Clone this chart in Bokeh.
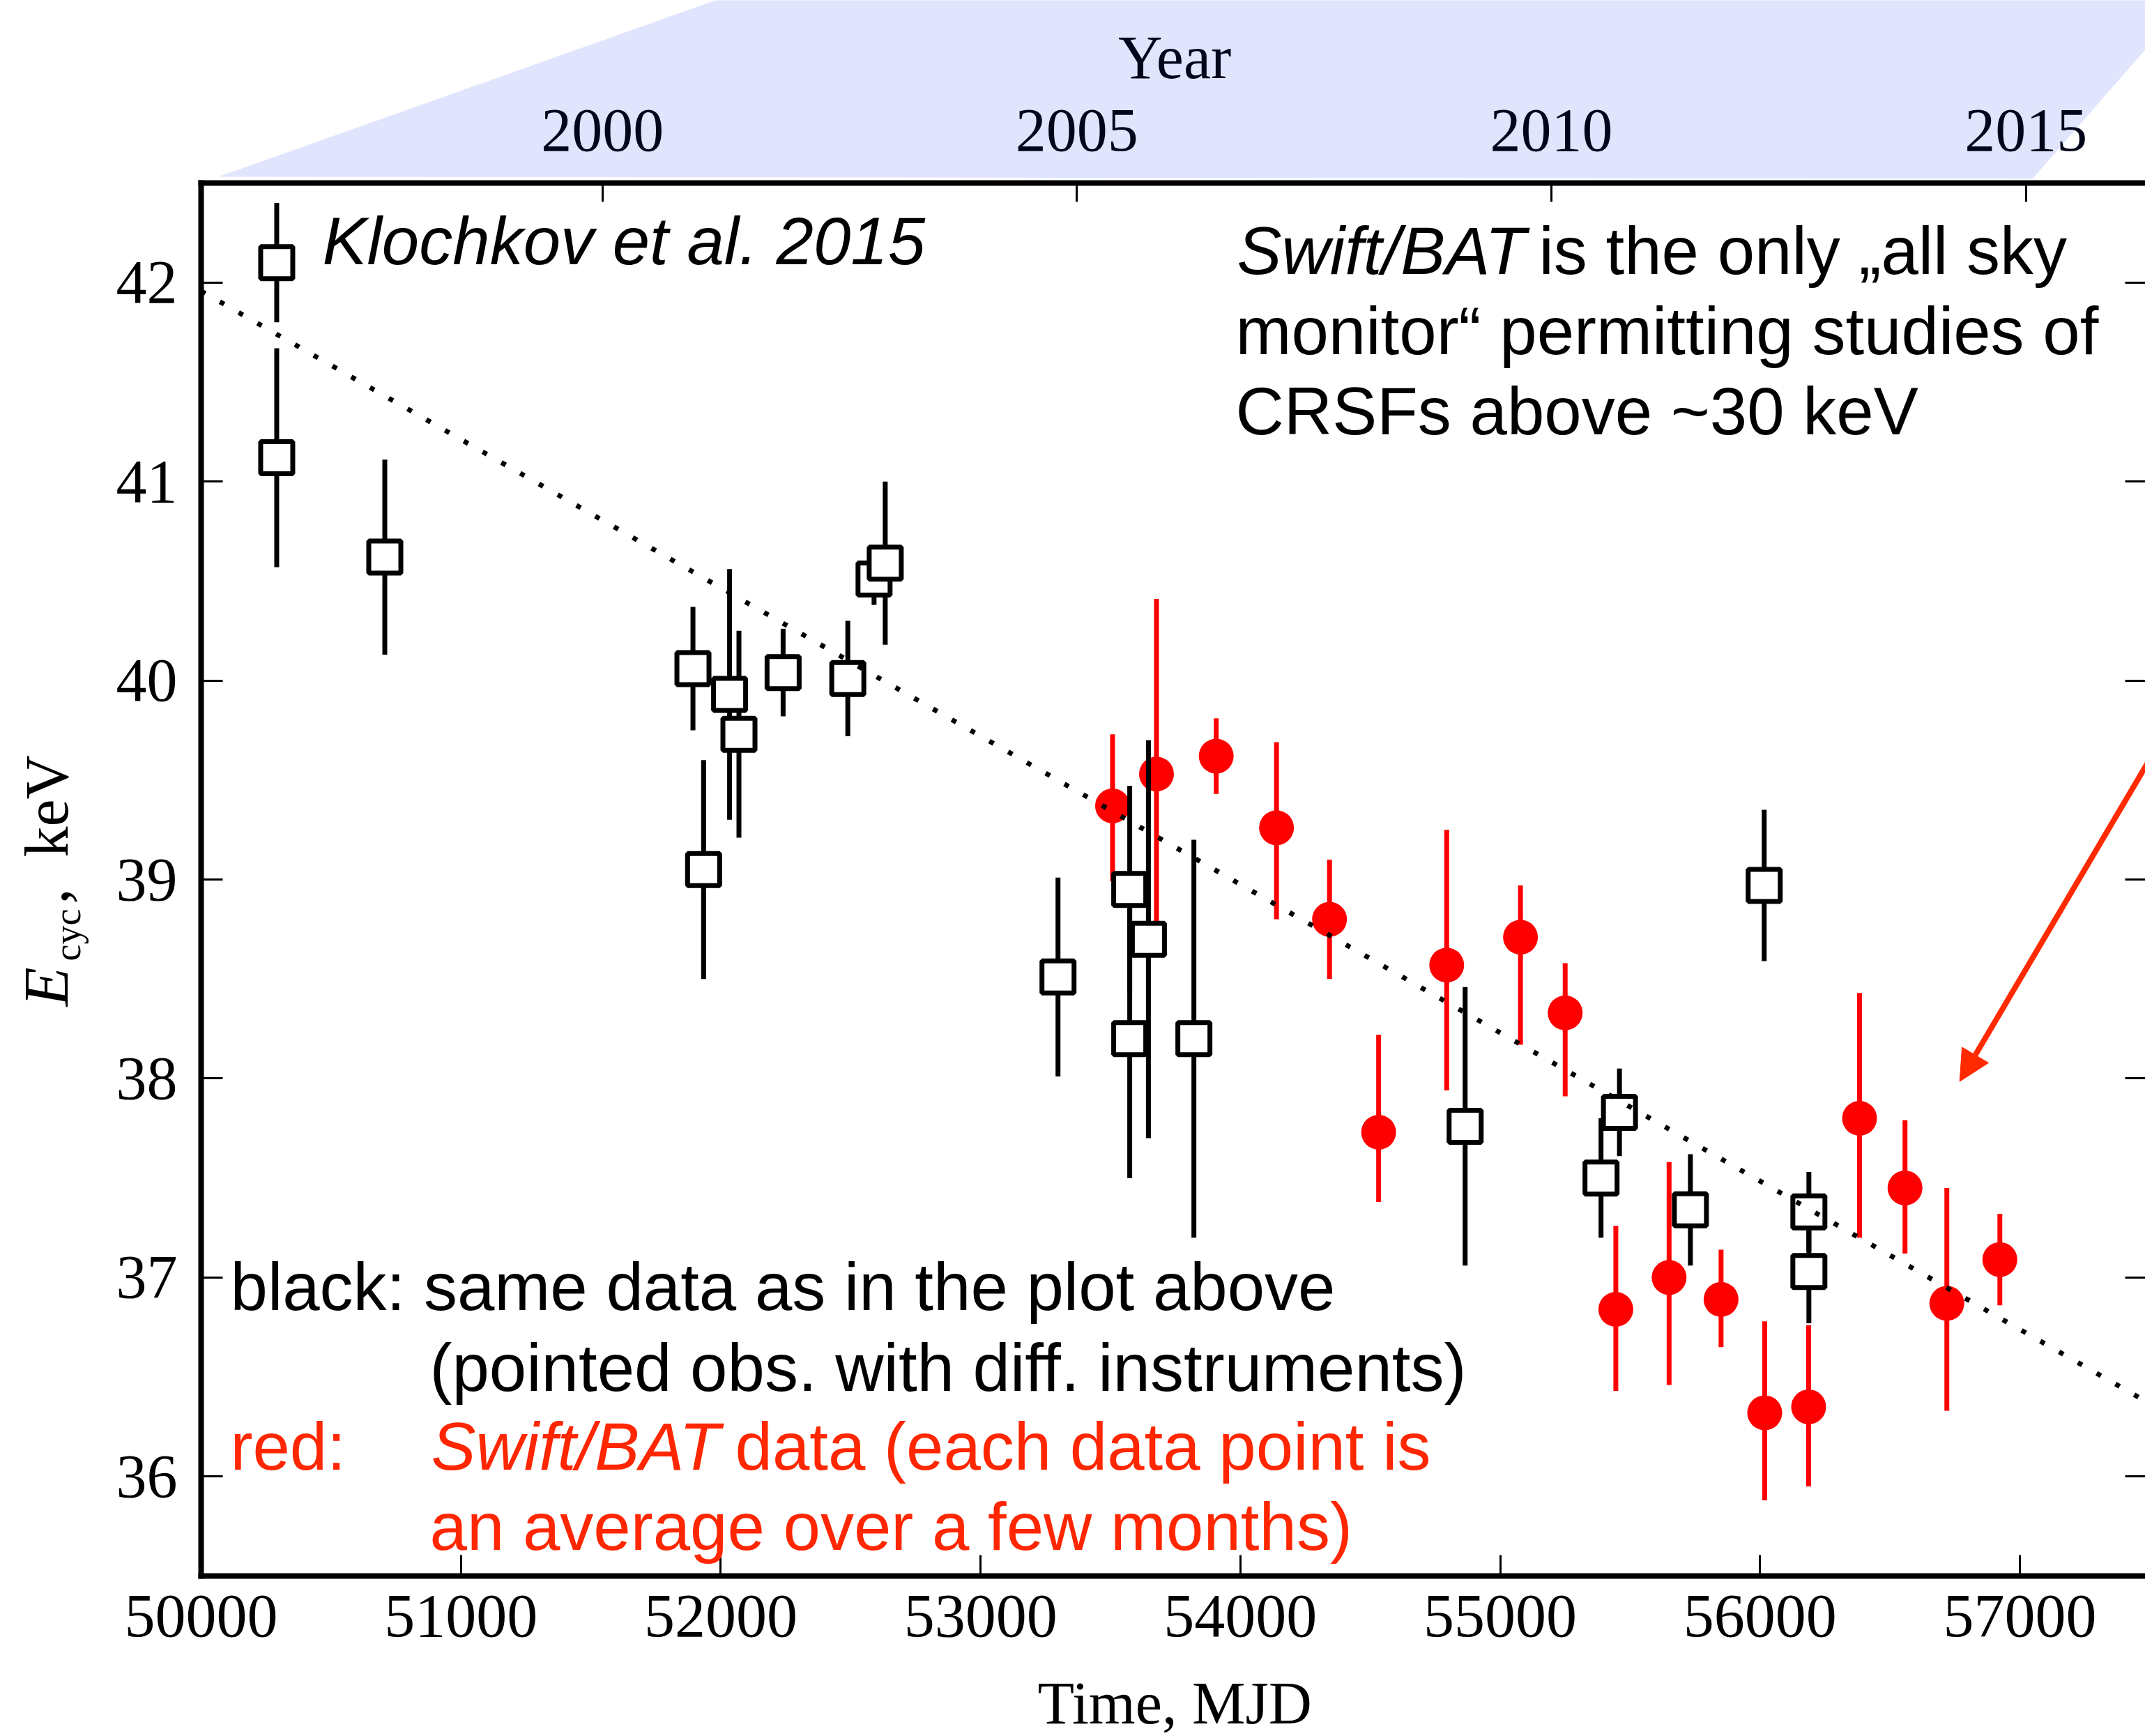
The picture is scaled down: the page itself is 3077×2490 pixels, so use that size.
import math
from bokeh.plotting import figure
from bokeh.layouts import column, row
from bokeh.models import (Range1d, LinearAxis, FixedTicker, Label, Arrow, NormalHead,
                          ColumnDataSource)
from bokeh.embed import file_html
from bokeh.resources import INLINE

# ---------------- data ----------------
# black: pointed observations (Klochkov et al. 2015)
black_mjd = [50291, 50291, 50707, 51893, 51934, 52034, 52070, 52240, 52489, 52590, 52633,
             53298, 53574, 53574, 53646, 53821, 54865, 55388, 55459, 55732, 56016, 56188, 56188]
black_e = [42.10, 41.12, 40.62, 40.06, 39.05, 39.93, 39.73, 40.04, 40.01, 40.51, 40.59,
           38.51, 38.95, 38.20, 38.70, 38.20, 37.76, 37.50, 37.83, 37.34, 38.97, 37.33, 37.03]
black_err = [0.30, 0.55, 0.49, 0.31, 0.55, 0.63, 0.52, 0.22, 0.29, 0.13, 0.41,
             0.50, 0.52, 0.70, 1.00, 1.00, 0.70, 0.30, 0.22, 0.28, 0.38, 0.20, 0.26]

# red: Swift/BAT averages
red_mjd = [53508, 53677, 53907, 54139, 54343, 54532, 54794, 55078, 55250, 55445,
           55650, 55850, 56018, 56187, 56383, 56558, 56719, 56923]
red_e = [39.37, 39.53, 39.62, 39.26, 38.80, 37.73, 38.57, 38.71, 38.33, 36.84,
         37.00, 36.89, 36.32, 36.35, 37.80, 37.45, 36.87, 37.09]
red_err_lo = [0.38, 0.88, 0.19, 0.46, 0.30, 0.35, 0.63, 0.54, 0.42, 0.41,
              0.54, 0.24, 0.44, 0.40, 0.60, 0.33, 0.54, 0.23]
red_err_hi = [0.36, 0.88, 0.19, 0.43, 0.30, 0.49, 0.68, 0.26, 0.25, 0.42,
              0.58, 0.25, 0.46, 0.41, 0.63, 0.34, 0.58, 0.23]

# linear trend (dotted)
trend_mjd = [50000, 57483]
trend_e = [41.957, 36.379]

x_ticks = [50000, 51000, 52000, 53000, 54000, 55000, 56000, 57000]
y_ticks = [36, 37, 38, 39, 40, 41, 42]
year_ticks = [2000, 2005, 2010, 2015]
year_labels = ["2000", "2005", "2010", "2015"]

X_START, X_END = 50000, 57483
Y_START, Y_END = 35.5, 42.5

W, H = 3077, 2490
TOP_H = 258          # strip above the frame (blue band, year labels)
BOT_H = 96           # strip below the main figure (x-axis title)
LEFT_W = 150         # strip left of the main figure (y-axis title)
FRAME_L, FRAME_T, FRAME_B = 288, 262, 2260   # page pixels of the frame
MAIN_H = H - TOP_H - BOT_H

SERIF = "Liberation Serif"
SANS = "Liberation Sans"
RED_TXT = "#ff2600"
NAVY = "#03061a"
S_MID = 0.3465   # middle-of-box offset above baseline (em), Liberation Sans
R_MID = 0.3375   # same for Liberation Serif


def mjd_to_year(m):
    return 2000.0 + (m - 51544.5) / 365.25


PX_PER_DAY = (W - FRAME_L) / (X_END - X_START)
PX_PER_KEV = (FRAME_B - FRAME_T) / (Y_END - Y_START)


def dx(X):   # page px -> MJD
    return X_START + (X - FRAME_L) / PX_PER_DAY


def dy(Y):   # page px -> keV
    return Y_END - (Y - FRAME_T) / PX_PER_KEV


def yr(X):   # page px -> year
    return mjd_to_year(dx(X))


def common(fig):
    fig.outline_line_color = None
    fig.background_fill_color = "white"
    fig.border_fill_color = "white"


# ---------------- top strip: blue band + year labels ----------------
top = figure(width=W, height=TOP_H, x_range=Range1d(yr(0), yr(W)), y_range=Range1d(TOP_H, 0),
             x_axis_type=None, y_axis_type=None, min_border=0,
             output_backend="svg", toolbar_location=None)
common(top)
top.patch(x=[yr(1040), yr(3143), yr(2915), yr(313)], y=[-5, -5, 256, 253],
          fill_color="#e0e4fc", line_color=None)
top.text(x=year_ticks, y=[216 - R_MID * 88] * len(year_ticks), text=year_labels,
         text_font={"value": SERIF}, text_font_size={"value": "88px"}, text_color=NAVY,
         text_align="center", text_baseline="middle")
top.text(x=[yr(1684.7)], y=[112 - R_MID * 88], text=["Year"],
         text_font={"value": SERIF}, text_font_size={"value": "88px"}, text_color=NAVY,
         text_align="center", text_baseline="middle")

# ---------------- left strip: y-axis title E_cyc, keV ----------------
# (its frame is aligned with the main frame by the row layout: page y 262..2260)
left = figure(width=LEFT_W, height=MAIN_H, x_range=Range1d(0, LEFT_W),
              y_range=Range1d(FRAME_B, FRAME_T), x_axis_type=None, y_axis_type=None,
              min_border=0, output_backend="svg", toolbar_location=None)
common(left)
rot = math.pi / 2
left.text(x=[97 - R_MID * 92], y=[1443], text=["E"], angle=rot,
          text_font={"value": SERIF}, text_font_size={"value": "92px"}, text_font_style="italic",
          text_align="left", text_baseline="middle", text_color="black")
left.text(x=[115 - R_MID * 54], y=[1378], text=["cyc"], angle=rot,
          text_font={"value": SERIF}, text_font_size={"value": "54px"},
          text_align="left", text_baseline="middle", text_color="black")
left.text(x=[97 - R_MID * 88, 97 - R_MID * 88], y=[1296, 1229], text=[",", "keV"], angle=rot,
          text_font={"value": SERIF}, text_font_size={"value": "88px"},
          text_align="left", text_baseline="middle", text_color="black")

# ---------------- bottom strip: x-axis title ----------------
bottom = figure(width=W, height=BOT_H, x_range=Range1d(0, W), y_range=Range1d(H, H - BOT_H),
                x_axis_type=None, y_axis_type=None, min_border=0,
                output_backend="svg", toolbar_location=None)
common(bottom)
bottom.text(x=[1684.7], y=[H - BOT_H / 2], text=["Time, MJD"],
            text_font={"value": SERIF}, text_font_size={"value": "86px"}, text_color="black",
            text_align="center", text_baseline="middle")

# ---------------- main figure ----------------
p = figure(width=W - LEFT_W, height=MAIN_H,
           x_range=Range1d(X_START, X_END), y_range=Range1d(Y_START, Y_END),
           output_backend="svg", toolbar_location=None,
           min_border_left=FRAME_L - LEFT_W, min_border_right=0,
           min_border_top=FRAME_T - TOP_H, min_border_bottom=TOP_H + MAIN_H - FRAME_B)
common(p)
p.xgrid.grid_line_color = None
p.ygrid.grid_line_color = None

p.extra_x_ranges = {"year": Range1d(mjd_to_year(X_START), mjd_to_year(X_END))}
top_axis = LinearAxis(x_range_name="year", ticker=FixedTicker(ticks=year_ticks))
p.add_layout(top_axis, "above")
right_axis = LinearAxis(ticker=FixedTicker(ticks=y_ticks))
p.add_layout(right_axis, "right")

bottom_axis = p.below[0]
left_axis = p.left[0]
bottom_axis.ticker = FixedTicker(ticks=x_ticks)
left_axis.ticker = FixedTicker(ticks=y_ticks)

for ax in [bottom_axis, left_axis, top_axis, right_axis]:
    ax.axis_line_width = 8
    ax.axis_line_cap = "square"
    ax.axis_line_color = "black"
    ax.major_tick_line_width = 3
    ax.major_tick_out = 0
    ax.minor_tick_line_color = None
    ax.minor_tick_in = 0
    ax.minor_tick_out = 0
    ax.major_label_text_font = SERIF
    ax.major_label_text_font_size = "88px"
    ax.major_label_text_color = "black"

left_axis.major_tick_in = 31
left_axis.major_label_standoff = 34
bottom_axis.major_tick_in = 30
bottom_axis.major_label_standoff = 28
top_axis.major_tick_in = 27
top_axis.major_label_standoff = 0
top_axis.major_label_overrides = {t: "" for t in year_ticks}
right_axis.major_tick_in = 29
right_axis.axis_line_color = None
right_axis.major_label_standoff = 0
right_axis.major_label_overrides = {t: "" for t in y_ticks}

red_src = ColumnDataSource(dict(
    x=red_mjd, y=red_e,
    lo=[e - d for e, d in zip(red_e, red_err_lo)],
    hi=[e + d for e, d in zip(red_e, red_err_hi)]))
black_src = ColumnDataSource(dict(
    x=black_mjd, y=black_e,
    lo=[e - d for e, d in zip(black_e, black_err)],
    hi=[e + d for e, d in zip(black_e, black_err)]))

p.segment(x0="x", y0="lo", x1="x", y1="hi", source=red_src, line_color="#ff0000", line_width=7)
p.scatter(x="x", y="y", source=red_src, marker="circle", size=50,
          fill_color="#ff0000", line_color=None)
p.segment(x0="x", y0="lo", x1="x", y1="hi", source=black_src, line_color="black", line_width=7)
p.scatter(x="x", y="y", source=black_src, marker="square", size=46,
          fill_color="white", line_color="black", line_width=7)
p.line(trend_mjd, trend_e, line_color="black", line_width=7, line_dash="7 24")

p.add_layout(Arrow(end=NormalHead(size=44, fill_color="#ff2a00", line_color="#ff2a00", line_width=1),
                   x_start=dx(3194.6), y_start=dy(900), x_end=dx(2810.7), y_end=dy(1550.7),
                   line_color="#ff2a00", line_width=8))


def label(X, Ybase, text, color="black", style="normal"):
    p.add_layout(Label(x=dx(X), y=dy(Ybase - S_MID * 96), text=text, text_color=color,
                       text_font=SANS, text_font_size="96px", text_font_style=style,
                       text_align="left", text_baseline="middle"))


label(462, 378, "Klochkov et al. 2015", style="italic")
label(1774, 392, "Swift/BAT", style="italic")
label(2207, 392, "is the only \u201eall sky")
label(1772, 507, "monitor\u201c permitting studies of")
label(1772, 622, "CRSFs above ~30 keV")

label(330, 1878, "black: same data as in the plot above")
label(616, 1994, "(pointed obs. with diff. instruments)")
label(330, 2107, "red:", color=RED_TXT)
label(618, 2107, "Swift/BAT", color=RED_TXT, style="italic")
label(1054, 2107, "data (each data point is", color=RED_TXT)
label(616, 2222, "an average over a few months)", color=RED_TXT)

layout = column(top, row(left, p, spacing=0), bottom, spacing=0)
open("out.html", "w").write(file_html(layout, INLINE))
